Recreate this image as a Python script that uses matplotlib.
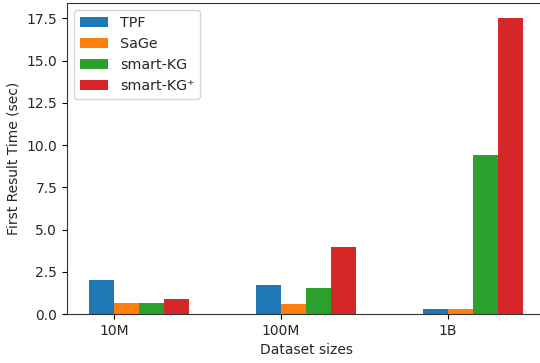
import matplotlib
matplotlib.use("Agg")
import matplotlib.pyplot as plt
import numpy as np

categories = ["10M", "100M", "1B"]
series_names = ["TPF", "SaGe", "smart-KG", "smart-KG\u207a"]
tpf = [2.02, 1.72, 0.30]
sage = [0.63, 0.57, 0.28]
smartkg = [0.67, 1.52, 9.43]
smartkg_plus = [0.91, 3.99, 17.54]
colors = ["#1f77b4", "#ff7f0e", "#2ca02c", "#d62728"]

plt.rcParams['font.size'] = 10
plt.rcParams['text.color'] = '#262626'
plt.rcParams['axes.labelcolor'] = '#262626'
plt.rcParams['xtick.labelcolor'] = '#262626'
plt.rcParams['ytick.labelcolor'] = '#262626'
plt.rcParams['axes.edgecolor'] = '#333333'
fig = plt.figure(figsize=(5.4, 3.63), dpi=100)
ax = fig.add_axes([67/540, 49/363, 478/540, 311/363])

x = np.arange(len(categories))
w = 0.15
for i, (vals, name, c) in enumerate(zip([tpf, sage, smartkg, smartkg_plus], series_names, colors)):
    ax.bar(x + (i - 0.5) * w, vals, w, label=name, color=c)

ax.set_xticks(x)
ax.set_xticklabels(categories)
ax.set_xlabel("Dataset sizes")
ax.set_ylabel("First Result Time (sec)")
ax.legend(loc="upper left", fontsize=10.3)
fig.savefig("out.png", dpi=100)
